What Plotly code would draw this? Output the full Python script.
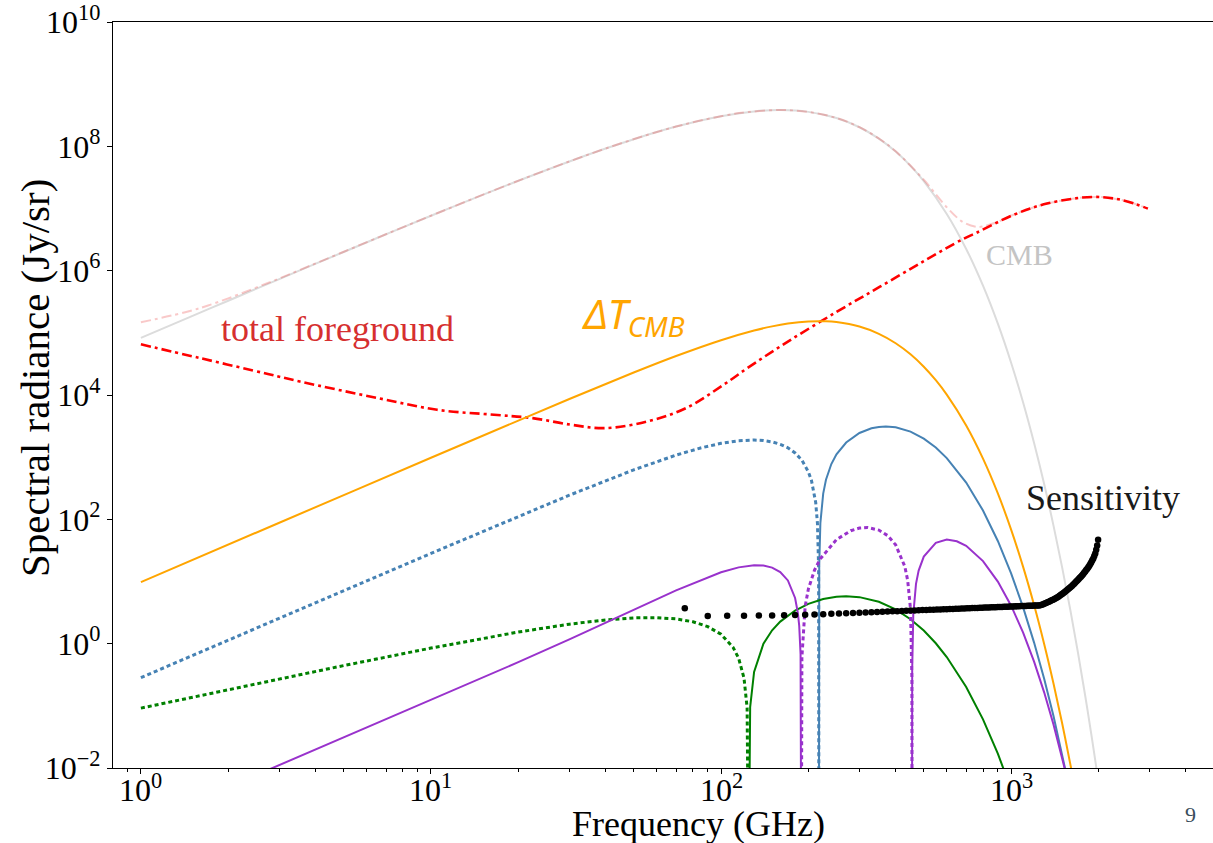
import math
import plotly.graph_objects as go

# ---------------- data (frequency in GHz, radiance in Jy/sr) ----------------
cmb_freq = [1, 1.5, 2, 3, 5, 7, 10, 15, 20, 30, 40, 50, 70, 100, 130, 160, 200, 250, 300,
            350, 400, 450, 500, 600, 700, 800, 900, 1000, 1100, 1200, 1300, 1400, 1500,
            1600, 1700, 1800, 1900, 1950, 2000]
cmb_val = [8.2873e4, 1.8565e5, 3.2857e5, 7.3277e5, 1.9995e6, 3.8494e6, 7.646e6, 1.6436e7,
           2.790e7, 5.711e7, 9.2149e7, 1.3033e8, 2.0778e8, 3.0552e8, 3.6474e8, 3.8316e8,
           3.5846e8, 2.852e8, 2.028e8, 1.3318e8, 8.227e7, 4.8536e7, 2.7592e7, 8.183e6,
           2.236e6, 5.7364e5, 1.4037e5, 3.3097e4, 7569, 1688.8, 369.1, 79.19, 16.737,
           3.490, 0.71942, 0.14677, 0.0297, 0.013301, 0.00595]

fg_freq = [1, 1.6, 2.74, 3.53, 6.66, 10.5, 16.5, 22.4, 30.3, 39.7, 55.9, 75.6, 102, 123,
           170, 251, 353, 500, 682, 760, 1014, 1329, 1915, 2430, 2962]
fg_val = [6.53e4, 3.92e4, 2.18e4, 1.65e4, 8790, 5780, 4810, 4250, 3330, 2930, 3760, 6140,
          1.459e4, 2.69e4, 7.23e4, 2.188e5, 5.52e5, 1.42e6, 3.22e6, 4.07e6, 7.82e6,
          1.20e7, 1.535e7, 1.358e7, 9.95e6]

sum_freq = [1, 1.6, 2.74, 3.53, 6.66, 10.5, 16.5, 22.4, 30.3, 39.7, 55.9, 75.6, 102, 123,
            160, 200, 251, 300, 353, 400, 500, 600, 682, 760, 800, 900, 1014, 1329, 1915,
            2430, 2962]
sum_val = [1.4817e5, 2.502e5, 6.345e5, 1.0263e6, 3.504e6, 8.397e6, 1.962e7, 3.4223e7,
           5.8091e7, 9.1037e7, 1.5343e8, 2.2833e8, 3.1081e8, 3.5474e8, 3.8322e8, 3.5858e8,
           2.8375e8, 2.0316e8, 1.3014e8, 8.304e7, 2.901e7, 1.048e7, 6.06e6, 5.07e6, 5.14e6,
           6.11e6, 7.847e6, 1.20e7, 1.535e7, 1.358e7, 9.95e6]

dT_freq = [1, 3, 10, 30, 50, 70, 100, 130, 150, 170, 200, 230, 250, 300, 350, 400, 450,
           500, 550, 600, 700, 800, 900, 1000, 1100, 1200, 1300, 1400, 1500, 1600, 1650]
dT_val = [9.8, 88.2, 977, 8617, 22976, 42377, 76156, 108915, 127080, 140925, 152490,
          153400, 149000, 126250, 96424, 68050, 45102, 28481, 17286, 10136, 3231, 947.3,
          260.8, 68.32, 17.19, 4.1833, 0.9904, 0.22885, 0.051826, 0.011528, 0.005409]

# thermal SZ: decrement below the null, increment above it
tsz_neg_freq = [1, 3, 10, 30, 50, 70, 85, 100, 115, 130, 140, 150, 160, 170, 180, 190,
                200, 205, 210, 212, 215, 217, 217.45]
tsz_neg_val = [0.2847, 2.5613, 28.32, 244.5, 624.9, 1079.0, 1404.1, 1668.3, 1837.9,
               1889.6, 1853.0, 1759.4, 1611.4, 1413.3, 1171.0, 891.8, 583.5, 421.2, 254.5,
               187.0, 84.9, 16.4, 1e-4]
tsz_pos_freq = [217.45, 218, 220, 225, 230, 240, 250, 270, 300, 330, 350, 370, 400, 450,
                500, 550, 600, 700, 800, 900, 1000, 1100, 1200, 1300, 1400, 1500, 1550, 1600]
tsz_pos_val = [1e-4, 18.0, 86.9, 259.6, 432.5, 775.3, 1108, 1721.4, 2452.4, 2909.5, 3067.3,
               3113.2, 3021.6, 2575.3, 1989.2, 1428.2, 967.0, 390.8, 138.8, 44.89, 13.51,
               3.838, 1.0411, 0.27185, 0.068667, 0.016876, 0.0082908, 0.004049]

# chemical-potential distortion
mu_neg_freq = [1, 2, 5, 10, 20, 30, 40, 50, 60, 70, 80, 90, 100, 110, 115, 120, 123, 124.5]
mu_neg_val = [0.0918, 0.1821, 0.4439, 0.8489, 1.5376, 2.0588, 2.4111, 2.5966, 2.6231,
              2.5022, 2.2484, 1.8795, 1.4146, 0.8744, 0.5825, 0.2794, 0.0932, 1e-4]
mu_pos_freq = [124.5, 126, 130, 140, 150, 160, 180, 200, 225, 250, 270, 300, 350, 400, 450,
               500, 550, 600, 700, 800, 900, 1000]
mu_pos_val = [1e-4, 0.0957, 0.3505, 0.9962, 1.6398, 2.2663, 3.4163, 4.3678, 5.2164, 5.6749,
              5.7849, 5.6030, 4.7131, 3.5557, 2.4750, 1.6227, 1.0146, 0.6094, 0.2012,
              0.06055, 0.017047, 0.004537]

# relativistic SZ correction: positive, negative, positive
rsz_a_freq = [1, 2, 3, 5, 10, 20, 30, 50, 70, 100, 115, 130, 140, 150, 160, 170, 180, 184,
              186, 188, 189.06]
rsz_a_val = [0.001226, 0.004905, 0.011037, 0.030666, 0.12351, 0.50423, 1.1717, 3.4962,
             7.1959, 14.069, 16.875, 18.254, 18.035, 16.705, 14.173, 10.399, 5.4374, 3.1397,
             1.9294, 0.6782, 1e-4]
rsz_b_freq = [189.06, 190, 195, 200, 210, 220, 250, 280, 300, 320, 350, 375, 400, 430, 440,
              450, 455, 455.4]
rsz_b_val = [1e-4, 0.609, 3.988, 7.5634, 15.210, 23.275, 47.252, 65.597, 72.302, 73.90,
             67.193, 54.871, 38.811, 17.471, 10.429, 3.589, 0.2686, 1e-4]
rsz_c_freq = [455.4, 456, 460, 470, 480, 500, 550, 600, 650, 700, 800, 900, 1000, 1100,
              1200, 1300, 1400, 1500, 1550]
rsz_c_val = [1e-4, 0.3855, 2.970, 9.176, 14.972, 25.183, 41.960, 47.189, 44.448, 37.412,
             21.315, 9.978, 4.0788, 1.5068, 0.51456, 0.16497, 0.050154, 0.014598, 0.007764]

sens_freq = [75, 90, 105, 120, 135, 150, 165, 180, 195, 210, 225, 240, 255, 270, 285, 300,
             315, 330, 345, 360, 375, 390, 405, 420, 435, 450, 465, 480, 495, 510, 525, 540,
             555, 570, 585, 600, 615, 630, 645, 660, 675, 690, 705, 720, 735, 750, 765, 780,
             795, 810, 825, 840, 855, 870, 885, 900, 915, 930, 945, 960, 975, 990, 1005,
             1020, 1035, 1050, 1065, 1080, 1095, 1110, 1125, 1140, 1155, 1170, 1185, 1200,
             1215, 1230, 1245, 1260, 1275, 1290, 1305, 1320, 1335, 1350, 1365, 1380, 1395,
             1410, 1425, 1440, 1455, 1470, 1485, 1500, 1515, 1530, 1545, 1560, 1575, 1590,
             1605, 1620, 1635, 1650, 1665, 1680, 1695, 1710, 1725, 1740, 1755, 1770, 1785,
             1800, 1815, 1830, 1845, 1860, 1875, 1890, 1905, 1920, 1935, 1950, 1965, 1980,
             1995]
sens_val = [3.70, 2.79, 2.80, 2.82, 2.83, 2.85, 2.87, 2.89, 2.91,
            2.944, 2.983, 3.020, 3.055, 3.089, 3.120, 3.151, 3.180, 3.208, 3.236,
            3.262, 3.287, 3.311, 3.335, 3.358, 3.381, 3.403, 3.425, 3.445, 3.466,
            3.485, 3.504, 3.524, 3.541, 3.559, 3.577, 3.594, 3.611, 3.627, 3.643,
            3.659, 3.675, 3.690, 3.706, 3.720, 3.735, 3.749, 3.763, 3.777, 3.791,
            3.804, 3.817, 3.830, 3.843, 3.856, 3.868, 3.881, 3.893, 3.905, 3.917,
            3.928, 3.940, 3.951, 3.962, 3.973, 3.984, 3.995, 4.006, 4.017, 4.027,
            4.037, 4.047, 4.058, 4.068, 4.078, 4.088, 4.101, 4.111, 4.120, 4.130,
            4.140,
            4.22, 4.31, 4.41, 4.51, 4.62, 4.73, 4.85, 4.98, 5.10, 5.24,
            5.37, 5.51, 5.70, 5.90, 6.10, 6.31, 6.55, 6.78, 7.03, 7.29,
            7.57, 7.85, 8.15, 8.47, 8.83, 9.23, 9.66, 10.09, 10.52, 10.96,
            11.46, 11.97, 12.50, 13.12, 13.77, 14.45, 15.28, 16.11, 17.02, 17.99,
            19.05, 20.42, 21.88, 23.44, 25.70, 28.18, 32.36, 38.02, 46.77]

y_tick_vals = [1e-2, 1e0, 1e2, 1e4, 1e6, 1e8, 1e10]
y_tick_text = ["10<sup>\u22122</sup>", "10<sup>0</sup>", "10<sup>2</sup>", "10<sup>4</sup>",
               "10<sup>6</sup>", "10<sup>8</sup>", "10<sup>10</sup>"]
x_tick_vals = [1, 10, 100, 1000]
x_tick_text = ["10<sup>0</sup>", "10<sup>1</sup>", "10<sup>2</sup>", "10<sup>3</sup>"]
x_minor_vals = [0.9, 2, 3, 4, 5, 6, 7, 8, 9, 20, 30, 40, 50, 60, 70, 80, 90,
                200, 300, 400, 500, 600, 700, 800, 900, 2000, 3000, 4000, 5000]

# ---------------- figure ----------------
W, H = 1213, 843
L, R, T, B = 113, 0, 20, 75
PW, PH = W - L - R, H - T - B

SERIF = "Liberation Serif"
DOT = "4px,3px"
DASHDOT = "10px,4px,3px,4px"

fig = go.Figure()


def line(x, y, color, width, dash="solid", shape="linear"):
    fig.add_trace(go.Scatter(x=x, y=y, mode="lines",
                             line=dict(color=color, width=width, dash=dash, shape=shape),
                             hoverinfo="skip", showlegend=False))


line(cmb_freq, cmb_val, "#dcdcdc", 2, shape="spline")
line(sum_freq, sum_val, "rgba(235,60,60,0.28)", 2, DASHDOT, shape="spline")
line(fg_freq, fg_val, "#ff0000", 2.6, DASHDOT, shape="spline")
line(dT_freq, dT_val, "#ffa500", 2, shape="spline")
line(tsz_neg_freq, tsz_neg_val, "#4682b4", 3, DOT)
line(tsz_pos_freq, tsz_pos_val, "#4682b4", 2)
line(mu_neg_freq, mu_neg_val, "#008000", 3, DOT)
line(mu_pos_freq, mu_pos_val, "#008000", 2)
line(rsz_a_freq, rsz_a_val, "#9932cc", 2)
line(rsz_b_freq, rsz_b_val, "#9932cc", 3, DOT)
line(rsz_c_freq, rsz_c_val, "#9932cc", 2)

fig.add_trace(go.Scatter(x=sens_freq, y=sens_val, mode="markers",
                         marker=dict(color="black", size=6.5, line=dict(width=0)),
                         hoverinfo="skip", showlegend=False))


def px_x(p):
    return (p - L) / PW


def px_y(p):
    return (T + PH - p) / PH


notes = [
    dict(text="total foreground", x=px_x(337), y=px_y(328), color="#d62f2f", size=36,
         family=SERIF, xanchor="center"),
    dict(text="<i>\u0394T</i><sub><i>CMB</i></sub>", x=px_x(580), y=px_y(314),
         color="#ffa500", size=40, family="Noto Sans", xanchor="left"),
    dict(text="CMB", x=px_x(1019), y=px_y(253), color="#c4c4c4", size=30, family=SERIF,
         xanchor="center"),
    dict(text="Sensitivity", x=px_x(1103), y=px_y(497), color="#1a1a1a", size=36,
         family=SERIF, xanchor="center"),
    dict(text="9", x=px_x(1190), y=px_y(815), color="#3a4d5c", size=22, family=SERIF,
         xanchor="center"),
    dict(text="Frequency (GHz)", x=px_x(698), y=px_y(824), color="black", size=36,
         family=SERIF, xanchor="center"),
]
for n in notes:
    fig.add_annotation(text=n["text"], x=n["x"], y=n["y"], xref="paper", yref="paper",
                       xanchor=n["xanchor"], yanchor="middle", showarrow=False,
                       font=dict(family=n["family"], size=n["size"], color=n["color"]))

fig.add_annotation(text="Spectral radiance (Jy/sr)", x=px_x(35), y=px_y(377),
                   xref="paper", yref="paper", xanchor="center", yanchor="middle",
                   textangle=-90, showarrow=False,
                   font=dict(family=SERIF, size=41, color="black"))

# frequency tick labels, set just under the tick marks
for v, t in zip(x_tick_vals, x_tick_text):
    fig.add_annotation(text=t, x=math.log10(v), y=px_y(788), xref="x", yref="paper",
                       xanchor="center", yanchor="middle", showarrow=False,
                       font=dict(family=SERIF, size=32, color="black"))

fig.update_layout(
    width=W, height=H,
    margin=dict(l=L, r=R, t=T, b=B, pad=0),
    paper_bgcolor="white", plot_bgcolor="white",
    xaxis=dict(type="log", range=[-0.0962, 3.696], showgrid=False, zeroline=False,
               showline=True, linecolor="black", linewidth=1.2, mirror=True,
               ticks="outside", ticklen=5, tickwidth=1, tickcolor="black",
               tickmode="array", tickvals=x_tick_vals, showticklabels=False,
               minor=dict(tickmode="array", tickvals=x_minor_vals, ticks="outside",
                          ticklen=3, tickwidth=1, tickcolor="black", showgrid=False)),
    yaxis=dict(type="log", range=[-2, 10], showgrid=False, zeroline=False,
               showline=True, linecolor="black", linewidth=1.2, mirror=False,
               ticks="outside", ticklen=5, tickwidth=1, tickcolor="black",
               tickmode="array", tickvals=y_tick_vals, ticktext=y_tick_text,
               ticklabeloverflow="allow",
               tickfont=dict(family=SERIF, size=32, color="black")),
)

fig.write_html("out.html")
